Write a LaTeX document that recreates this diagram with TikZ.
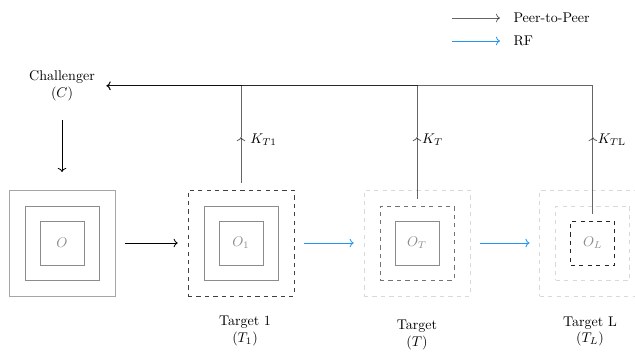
\documentclass[tikz,border=0pt]{standalone}
\usepackage{tikz}
\usetikzlibrary{arrows.meta}
\usepackage{xcolor}
\definecolor{rfblue}{RGB}{33,150,243}

\begin{document}
\begin{tikzpicture}[line width=0.6pt]
    \clip (0,0) rectangle (15.875,8.925);

    % nested squares for the original and the three targets
    \begin{scope}[every node/.style={rectangle,draw=black!45,inner sep=0pt,text=black!45}]
      \node[minimum size=2.65cm,draw=black!35] (o3) at (1.55,2.85) {};
      \node[minimum size=1.85cm] (o2) at (1.55,2.85) {};
      \node[minimum size=1.1cm] (o1) at (1.55,2.85) {$O$};

      \node[minimum size=2.65cm,draw=black!75,dashed,semithick] (a3) at (6.025,2.85) {};
      \node[minimum size=1.85cm] (a2) at (6.025,2.85) {};
      \node[minimum size=1.1cm] (a1) at (6.025,2.85) {$O_1$};

      \node[minimum size=2.65cm,draw=black!15,dashed] (b3) at (10.425,2.85) {};
      \node[minimum size=1.85cm,draw=black!55,dashed,semithick] (b2) at (10.425,2.85) {};
      \node[minimum size=1.1cm] (b1) at (10.425,2.85) {$O_T$};

      \node[minimum size=2.65cm,draw=black!15,dashed] (c3) at (14.82,2.85) {};
      \node[minimum size=1.85cm,draw=black!15,dashed] (c2) at (14.82,2.85) {};
      \node[minimum size=1.1cm,draw=black!85,dashed,semithick] (c1) at (14.82,2.85) {$O_L$};
    \end{scope}

    \node[align=center,inner xsep=8pt] (chal) at (1.55,6.78) {Challenger\\$(C)$};

    \node[align=center] (t1) at (6.125,0.64) {Target 1\\($T_1$)};
    \node[align=center] (t) at (10.425,0.55) {Target\\($T$)};
    \node[align=center] (tl) at (14.75,0.64) {Target L\\($T_L$)};

    % legend
    \coordinate (p2p) at (11.3,8.475);
    \coordinate (rf) at (11.3,7.9);
    \node[right] (lp2p) at (12.71,8.475) {Peer-to-Peer};
    \node[right] (lrf) at (12.71,7.9) {RF};

    % key halfway points
    \coordinate (k1) at (6.025,5.5);
    \coordinate (kt) at (10.425,5.5);
    \coordinate (kl) at (14.82,5.5);
    \node[right,xshift=3pt,yshift=-2pt] (lk1) at (k1) {$K_{T1}$};
    \node[right,yshift=-2pt] (lkt) at (kt) {$K_T$};
    \node[right,yshift=-2pt] (lkl) at (kl) {$K_{T\mathrm{L}}$};

    \begin{scope}[every edge/.style={draw,shorten <=7pt,shorten >=7pt}]
      \path [->] (o3) edge (a3);
      \path [->] (a3) edge[rfblue] (b3);
      \path [->] (b3) edge[rfblue] (c3);
      \path [->] (chal) edge[shorten <=10pt,shorten >=12.5pt] (o3);
    \end{scope}

    \begin{scope}[every edge/.style={draw=black,draw opacity=0.6,shorten <=5pt}]
      \path [->] (a3) edge (k1);
      \path [->] (b2) edge (kt);
      \path [->] (c1) edge (kl);
      \path [->] (p2p) edge[shorten <=0pt,shorten >=6pt] (lp2p);
    \end{scope}
    \path [->] (rf) edge[rfblue,shorten >=6pt] (lrf);

    \begin{scope}[draw opacity=0.6]
      \draw [->] (k1) |- (chal);
      \draw [->] (kt) |- (chal);
      \draw [->] (kl) |- (chal);
    \end{scope}
\end{tikzpicture}
\end{document}
